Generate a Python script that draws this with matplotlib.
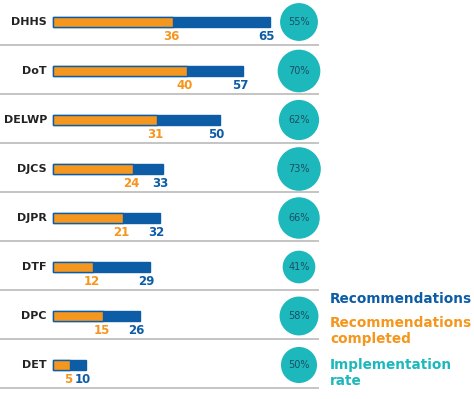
import matplotlib.pyplot as plt

departments = ["DHHS", "DoT", "DELWP", "DJCS", "DJPR", "DTF", "DPC", "DET"]
recommendations = [65, 57, 50, 33, 32, 29, 26, 10]
completed = [36, 40, 31, 24, 21, 12, 15, 5]
rates = [55, 70, 62, 73, 66, 41, 58, 50]

BLUE = "#0d5ca6"
ORANGE = "#f5961e"
TEAL = "#1db8bb"
GREY = "#c4c4c4"

plt.rcParams["font.family"] = ["DejaVu Sans"]

fig = plt.figure(figsize=(4.74, 3.99), dpi=100)
ax = fig.add_axes([0, 0, 1, 1])
ax.axis("off")

# pixel layout: bars start at x=53px, 3.34 px per recommendation; rows 49px apart
px_per_unit = 3.34
ax.set_xlim(-53 / px_per_unit, (474 - 53) / px_per_unit)
ax.set_ylim((399 - 22) / 49, -22 / 49)

y = list(range(len(departments)))
bar_h = 0.19

ax.barh(y, recommendations, height=bar_h, color=BLUE, edgecolor=BLUE, linewidth=1, zorder=2)
ax.barh(y, completed, height=bar_h, color=ORANGE, edgecolor=BLUE, linewidth=1, zorder=3)

circle_x = (299 - 53) / px_per_unit
ax.scatter([circle_x] * len(rates), y, s=[13.5 * r for r in rates], color=TEAL, zorder=3, linewidths=0)

for i, dep in enumerate(departments):
    ax.text(-1.8, i, dep, ha="right", va="center", fontsize=8, fontweight="bold", color="#222222")
    ax.text(completed[i] - 0.5, i + 0.29, str(completed[i]), ha="center", va="center",
            fontsize=8.5, color=ORANGE, fontweight="semibold")
    ax.text(recommendations[i] - 1.0, i + 0.29, str(recommendations[i]), ha="center", va="center",
            fontsize=8.5, color=BLUE, fontweight="semibold")
    ax.text(circle_x, i, f"{rates[i]}%", ha="center", va="center", fontsize=7, color="#1b4f66")
    ax.plot([-53 / px_per_unit, (318 - 53) / px_per_unit], [i + 0.47, i + 0.47],
            color=GREY, linewidth=1.4, zorder=1)

# legend as text
lx = (330 - 53) / px_per_unit
ax.text(lx, (299 - 22) / 49, "Recommendations", color=BLUE, fontsize=9.8,
        fontweight="semibold", va="center", ha="left")
ax.text(lx, (331 - 22) / 49, "Recommendations\ncompleted", color=ORANGE, fontsize=9.8,
        fontweight="semibold", va="center", ha="left", linespacing=1.15)
ax.text(lx, (373 - 22) / 49, "Implementation\nrate", color=TEAL, fontsize=9.8,
        fontweight="semibold", va="center", ha="left", linespacing=1.15)

fig.savefig("out.png", dpi=100)
